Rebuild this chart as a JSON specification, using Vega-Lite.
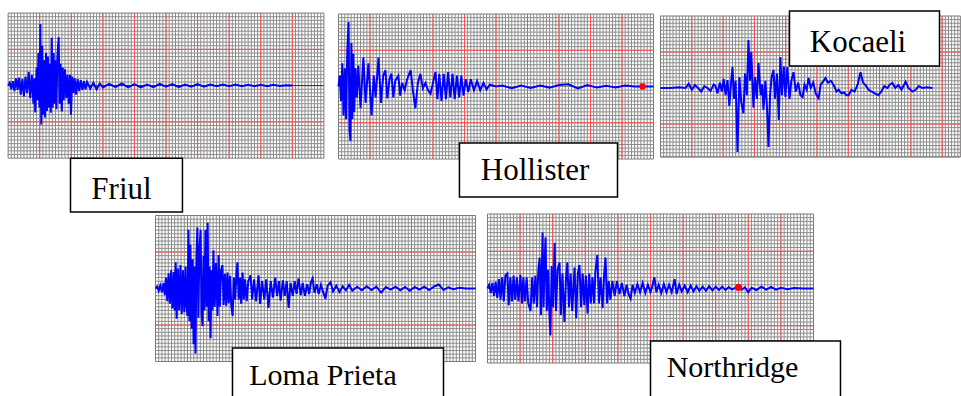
{
  "$schema": "https://vega.github.io/schema/vega-lite/v6.json",
  "background": "white",
  "padding": {"left": 3.5, "top": 8, "right": 0, "bottom": 0},
  "columns": 3,
  "align": "none",
  "bounds": "flush",
  "spacing": 0,
  "config": {
    "view": {"stroke": null},
    "axis": {"disable": true}
  },
  "datasets": {
    "gx": [{"t":0.1},{"t":0.2},{"t":0.3},{"t":0.4},{"t":0.5},{"t":0.6},{"t":0.7},{"t":0.8},{"t":0.9},{"t":1},{"t":1.1},{"t":1.2},{"t":1.3},{"t":1.4},{"t":1.5},{"t":1.6},{"t":1.7},{"t":1.8},{"t":1.9},{"t":2},{"t":2.1},{"t":2.2},{"t":2.3},{"t":2.4},{"t":2.5},{"t":2.6},{"t":2.7},{"t":2.8},{"t":2.9},{"t":3},{"t":3.1},{"t":3.2},{"t":3.3},{"t":3.4},{"t":3.5},{"t":3.6},{"t":3.7},{"t":3.8},{"t":3.9},{"t":4},{"t":4.1},{"t":4.2},{"t":4.3},{"t":4.4},{"t":4.5},{"t":4.6},{"t":4.7},{"t":4.8},{"t":4.9},{"t":5},{"t":5.1},{"t":5.2},{"t":5.3},{"t":5.4},{"t":5.5},{"t":5.6},{"t":5.7},{"t":5.8},{"t":5.9},{"t":6},{"t":6.1},{"t":6.2},{"t":6.3},{"t":6.4},{"t":6.5},{"t":6.6},{"t":6.7},{"t":6.8},{"t":6.9},{"t":7},{"t":7.1},{"t":7.2},{"t":7.3},{"t":7.4},{"t":7.5},{"t":7.6},{"t":7.7},{"t":7.8},{"t":7.9},{"t":8},{"t":8.1},{"t":8.2},{"t":8.3},{"t":8.4},{"t":8.5},{"t":8.6},{"t":8.7},{"t":8.8},{"t":8.9},{"t":9},{"t":9.1},{"t":9.2},{"t":9.3},{"t":9.4},{"t":9.5},{"t":9.6},{"t":9.7},{"t":9.8},{"t":9.9}],
    "gy": [{"a":-1.9},{"a":-1.8},{"a":-1.7},{"a":-1.6},{"a":-1.5},{"a":-1.4},{"a":-1.3},{"a":-1.2},{"a":-1.1},{"a":-1},{"a":-0.9},{"a":-0.8},{"a":-0.7},{"a":-0.6},{"a":-0.5},{"a":-0.4},{"a":-0.3},{"a":-0.2},{"a":-0.1},{"a":0},{"a":0.1},{"a":0.2},{"a":0.3},{"a":0.4},{"a":0.5},{"a":0.6},{"a":0.7},{"a":0.8},{"a":0.9},{"a":1},{"a":1.1},{"a":1.2},{"a":1.3},{"a":1.4},{"a":1.5},{"a":1.6},{"a":1.7},{"a":1.8},{"a":1.9}],
    "vmaj": [{"t": 1}, {"t": 2}, {"t": 3}, {"t": 4}, {"t": 5}, {"t": 6}, {"t": 7}, {"t": 8}, {"t": 9}],
    "hmaj": [{"a": -1}, {"a": 1}],
    "zero": [{"a": 0}],
    "friul": [
      {"t":0,"a":0},{"t":0.05,"a":0.08},{"t":0.1,"a":-0.1},{"t":0.15,"a":0.12},{"t":0.2,"a":-0.15},{"t":0.25,"a":0.2},{"t":0.3,"a":-0.12},{"t":0.35,"a":0.22},{"t":0.4,"a":-0.25},{"t":0.45,"a":0.18},{"t":0.5,"a":-0.3},{"t":0.55,"a":0.25},{"t":0.6,"a":-0.2},{"t":0.65,"a":0.38},{"t":0.7,"a":-0.35},{"t":0.75,"a":0.3},{"t":0.8,"a":-0.5},{"t":0.83,"a":0.2},{"t":0.86,"a":-0.74},{"t":0.9,"a":0.5},{"t":0.93,"a":-0.4},{"t":0.96,"a":0.9},{"t":0.99,"a":-0.6},{"t":1.02,"a":1.7},{"t":1.05,"a":-1.07},{"t":1.08,"a":1.1},{"t":1.11,"a":-0.8},{"t":1.14,"a":0.7},{"t":1.17,"a":-0.88},{"t":1.2,"a":0.9},{"t":1.23,"a":-0.7},{"t":1.26,"a":0.8},{"t":1.29,"a":-0.6},{"t":1.32,"a":0.6},{"t":1.35,"a":-0.75},{"t":1.38,"a":1.32},{"t":1.41,"a":-0.6},{"t":1.44,"a":0.9},{"t":1.47,"a":-0.5},{"t":1.5,"a":0.7},{"t":1.53,"a":-0.65},{"t":1.56,"a":0.8},{"t":1.6,"a":1.34},{"t":1.63,"a":-0.5},{"t":1.66,"a":0.6},{"t":1.7,"a":-0.71},{"t":1.73,"a":0.5},{"t":1.76,"a":-0.4},{"t":1.8,"a":0.45},{"t":1.84,"a":-0.35},{"t":1.88,"a":0.3},{"t":1.92,"a":-0.5},{"t":1.96,"a":0.3},{"t":1.99,"a":-0.8},{"t":2.03,"a":0.25},{"t":2.07,"a":-0.2},{"t":2.11,"a":0.2},{"t":2.15,"a":-0.25},{"t":2.2,"a":0.18},{"t":2.25,"a":-0.15},{"t":2.3,"a":0.15},{"t":2.35,"a":-0.12},{"t":2.4,"a":0.12},{"t":2.45,"a":-0.1},{"t":2.5,"a":0.1},{"t":2.6,"a":-0.08},{"t":2.7,"a":0.08},{"t":2.8,"a":-0.1},{"t":2.9,"a":0.06},{"t":3.0,"a":-0.05},{"t":3.2,"a":0.05},{"t":3.4,"a":-0.04},{"t":3.6,"a":0.06},{"t":3.8,"a":-0.05},{"t":4.0,"a":0.04},{"t":4.2,"a":-0.05},{"t":4.4,"a":0.03},{"t":4.6,"a":-0.04},{"t":4.8,"a":0.05},{"t":5.0,"a":-0.03},{"t":5.2,"a":0.04},{"t":5.4,"a":-0.04},{"t":5.6,"a":0.03},{"t":5.8,"a":-0.03},{"t":6.0,"a":0.04},{"t":6.2,"a":-0.03},{"t":6.4,"a":0.03},{"t":6.6,"a":-0.02},{"t":6.8,"a":0.03},{"t":7.0,"a":-0.02},{"t":7.2,"a":0.03},{"t":7.4,"a":-0.02},{"t":7.6,"a":0.02},{"t":7.8,"a":-0.02},{"t":8.0,"a":0.02},{"t":8.2,"a":-0.02},{"t":8.4,"a":0.02},{"t":8.6,"a":-0.01},{"t":8.8,"a":0.01},{"t":9.0,"a":0}
    ],
    "hollister": [
      {"t":0,"a":0},{"t":0.04,"a":0.3},{"t":0.08,"a":-0.4},{"t":0.12,"a":0.64},{"t":0.16,"a":-0.8},{"t":0.2,"a":0.5},{"t":0.24,"a":-0.9},{"t":0.28,"a":1.0},{"t":0.32,"a":1.78},{"t":0.35,"a":-1.2},{"t":0.38,"a":-1.5},{"t":0.41,"a":1.2},{"t":0.44,"a":-0.9},{"t":0.47,"a":0.9},{"t":0.5,"a":-0.7},{"t":0.54,"a":0.5},{"t":0.58,"a":-0.3},{"t":0.63,"a":0.58},{"t":0.7,"a":-0.6},{"t":0.79,"a":0.8},{"t":0.86,"a":-0.45},{"t":0.95,"a":0.64},{"t":1.05,"a":-0.8},{"t":1.12,"a":0.3},{"t":1.18,"a":-0.3},{"t":1.27,"a":0.8},{"t":1.35,"a":-0.45},{"t":1.42,"a":0.3},{"t":1.49,"a":0.45},{"t":1.55,"a":-0.33},{"t":1.62,"a":0.2},{"t":1.68,"a":0.36},{"t":1.74,"a":-0.3},{"t":1.8,"a":0.15},{"t":1.9,"a":0.3},{"t":1.96,"a":-0.25},{"t":2.02,"a":0.1},{"t":2.1,"a":-0.1},{"t":2.18,"a":0.2},{"t":2.29,"a":0.45},{"t":2.36,"a":-0.1},{"t":2.44,"a":-0.6},{"t":2.52,"a":0.1},{"t":2.6,"a":0.35},{"t":2.68,"a":-0.05},{"t":2.76,"a":0.1},{"t":2.84,"a":-0.1},{"t":2.92,"a":-0.2},{"t":3.0,"a":0.1},{"t":3.08,"a":0.4},{"t":3.14,"a":-0.35},{"t":3.2,"a":0.35},{"t":3.27,"a":-0.4},{"t":3.34,"a":0.35},{"t":3.41,"a":-0.35},{"t":3.48,"a":0.4},{"t":3.55,"a":-0.3},{"t":3.62,"a":0.35},{"t":3.69,"a":-0.35},{"t":3.76,"a":0.3},{"t":3.83,"a":-0.3},{"t":3.9,"a":0.3},{"t":3.97,"a":-0.25},{"t":4.04,"a":0.2},{"t":4.12,"a":-0.15},{"t":4.2,"a":0.2},{"t":4.3,"a":-0.1},{"t":4.4,"a":0.15},{"t":4.5,"a":-0.1},{"t":4.6,"a":0.1},{"t":4.7,"a":-0.08},{"t":4.8,"a":0.05},{"t":5.0,"a":0},{"t":5.2,"a":0.03},{"t":5.5,"a":-0.05},{"t":5.8,"a":0.03},{"t":6.1,"a":-0.04},{"t":6.4,"a":0.03},{"t":6.7,"a":-0.03},{"t":7.0,"a":0.04},{"t":7.3,"a":0.06},{"t":7.6,"a":-0.05},{"t":7.9,"a":0.04},{"t":8.2,"a":-0.03},{"t":8.5,"a":0.02},{"t":8.8,"a":-0.03},{"t":9.1,"a":0.03},{"t":9.4,"a":0},{"t":9.65,"a":0},{"t":10,"a":0}
    ],
    "kocaeli": [
      {"t":0,"a":0},{"t":0.3,"a":0},{"t":0.6,"a":0.02},{"t":0.8,"a":0},{"t":0.9,"a":0.12},{"t":1.0,"a":-0.05},{"t":1.1,"a":0.08},{"t":1.2,"a":0.0},{"t":1.3,"a":-0.1},{"t":1.4,"a":0.05},{"t":1.5,"a":0.0},{"t":1.6,"a":-0.08},{"t":1.7,"a":0.1},{"t":1.76,"a":0.05},{"t":1.82,"a":-0.15},{"t":1.9,"a":0.15},{"t":1.96,"a":-0.1},{"t":2.02,"a":0.25},{"t":2.08,"a":-0.2},{"t":2.14,"a":0.22},{"t":2.2,"a":-0.5},{"t":2.25,"a":0.1},{"t":2.3,"a":0.58},{"t":2.35,"a":-0.3},{"t":2.4,"a":0.2},{"t":2.46,"a":-1.78},{"t":2.52,"a":0.3},{"t":2.58,"a":-0.4},{"t":2.65,"a":-0.7},{"t":2.7,"a":0.4},{"t":2.76,"a":-0.2},{"t":2.81,"a":1.33},{"t":2.86,"a":0.2},{"t":2.9,"a":1.0},{"t":2.97,"a":-0.55},{"t":3.02,"a":0.3},{"t":3.08,"a":-0.3},{"t":3.13,"a":0.69},{"t":3.2,"a":-0.2},{"t":3.25,"a":0.1},{"t":3.29,"a":-0.6},{"t":3.35,"a":0.2},{"t":3.4,"a":-0.5},{"t":3.45,"a":-1.64},{"t":3.5,"a":-0.2},{"t":3.55,"a":0.3},{"t":3.61,"a":0.5},{"t":3.66,"a":-0.3},{"t":3.72,"a":0.4},{"t":3.78,"a":-0.89},{"t":3.83,"a":0.86},{"t":3.88,"a":-0.2},{"t":3.94,"a":0.6},{"t":3.99,"a":-0.25},{"t":4.05,"a":0.58},{"t":4.12,"a":-0.3},{"t":4.18,"a":0.2},{"t":4.25,"a":0.44},{"t":4.32,"a":-0.1},{"t":4.4,"a":0.15},{"t":4.47,"a":-0.2},{"t":4.54,"a":-0.25},{"t":4.6,"a":0.1},{"t":4.67,"a":-0.05},{"t":4.73,"a":0.28},{"t":4.8,"a":0.0},{"t":4.88,"a":0.15},{"t":4.96,"a":-0.15},{"t":5.05,"a":-0.28},{"t":5.12,"a":0.1},{"t":5.2,"a":0.18},{"t":5.27,"a":0.28},{"t":5.35,"a":0.15},{"t":5.45,"a":0.2},{"t":5.55,"a":0.05},{"t":5.62,"a":-0.1},{"t":5.69,"a":-0.05},{"t":5.78,"a":-0.15},{"t":5.86,"a":-0.12},{"t":5.94,"a":-0.2},{"t":6.01,"a":-0.2},{"t":6.1,"a":-0.05},{"t":6.2,"a":-0.1},{"t":6.3,"a":0.1},{"t":6.39,"a":0.44},{"t":6.47,"a":0.15},{"t":6.55,"a":0.08},{"t":6.65,"a":-0.05},{"t":6.75,"a":-0.1},{"t":6.85,"a":-0.15},{"t":6.96,"a":-0.2},{"t":7.05,"a":-0.1},{"t":7.15,"a":0.05},{"t":7.25,"a":0.0},{"t":7.33,"a":0.1},{"t":7.41,"a":0.14},{"t":7.5,"a":0.0},{"t":7.6,"a":0.08},{"t":7.7,"a":-0.05},{"t":7.83,"a":0.17},{"t":7.92,"a":0.0},{"t":8.05,"a":-0.1},{"t":8.15,"a":-0.05},{"t":8.25,"a":0.05},{"t":8.37,"a":0.0},{"t":8.5,"a":0.02},{"t":8.69,"a":0.0}
    ],
    "loma": [
      {"t":0,"a":0},{"t":0.05,"a":0.05},{"t":0.1,"a":-0.06},{"t":0.15,"a":0.08},{"t":0.2,"a":-0.1},{"t":0.25,"a":0.15},{"t":0.29,"a":-0.18},{"t":0.33,"a":0.3},{"t":0.37,"a":-0.35},{"t":0.41,"a":0.42},{"t":0.45,"a":-0.42},{"t":0.49,"a":0.5},{"t":0.53,"a":-0.55},{"t":0.57,"a":0.45},{"t":0.6,"a":-0.6},{"t":0.63,"a":0.72},{"t":0.66,"a":-0.83},{"t":0.7,"a":0.55},{"t":0.74,"a":-0.6},{"t":0.78,"a":0.64},{"t":0.82,"a":-0.7},{"t":0.86,"a":0.5},{"t":0.9,"a":-0.65},{"t":0.94,"a":0.6},{"t":0.97,"a":-0.5},{"t":1.0,"a":-0.75},{"t":1.03,"a":1.61},{"t":1.06,"a":-0.9},{"t":1.09,"a":1.2},{"t":1.13,"a":-1.1},{"t":1.16,"a":0.8},{"t":1.19,"a":-1.53},{"t":1.22,"a":0.6},{"t":1.25,"a":-1.78},{"t":1.28,"a":0.9},{"t":1.31,"a":1.67},{"t":1.34,"a":-0.8},{"t":1.37,"a":1.0},{"t":1.41,"a":1.61},{"t":1.44,"a":-0.7},{"t":1.47,"a":-1.03},{"t":1.5,"a":0.9},{"t":1.53,"a":-0.6},{"t":1.56,"a":1.61},{"t":1.6,"a":-0.5},{"t":1.63,"a":1.8},{"t":1.66,"a":-0.9},{"t":1.69,"a":0.6},{"t":1.72,"a":-1.36},{"t":1.75,"a":0.5},{"t":1.78,"a":-0.6},{"t":1.81,"a":1.05},{"t":1.85,"a":-0.5},{"t":1.89,"a":0.7},{"t":1.94,"a":-0.75},{"t":1.97,"a":0.92},{"t":2.01,"a":-0.5},{"t":2.05,"a":0.5},{"t":2.09,"a":0.64},{"t":2.13,"a":-0.45},{"t":2.17,"a":0.4},{"t":2.21,"a":-0.47},{"t":2.25,"a":0.44},{"t":2.29,"a":-0.4},{"t":2.33,"a":0.35},{"t":2.37,"a":-0.5},{"t":2.41,"a":-0.75},{"t":2.45,"a":0.3},{"t":2.49,"a":-0.3},{"t":2.53,"a":0.4},{"t":2.56,"a":0.72},{"t":2.6,"a":-0.3},{"t":2.64,"a":0.3},{"t":2.68,"a":-0.42},{"t":2.72,"a":0.44},{"t":2.76,"a":-0.3},{"t":2.8,"a":0.25},{"t":2.85,"a":-0.35},{"t":2.9,"a":0.2},{"t":2.97,"a":0.36},{"t":3.02,"a":-0.3},{"t":3.08,"a":0.25},{"t":3.14,"a":-0.35},{"t":3.22,"a":0.36},{"t":3.27,"a":-0.42},{"t":3.33,"a":0.2},{"t":3.4,"a":-0.3},{"t":3.46,"a":0.25},{"t":3.53,"a":-0.53},{"t":3.6,"a":0.2},{"t":3.67,"a":-0.25},{"t":3.74,"a":0.3},{"t":3.8,"a":-0.2},{"t":3.86,"a":0.2},{"t":3.91,"a":-0.33},{"t":3.98,"a":0.22},{"t":4.04,"a":-0.2},{"t":4.1,"a":0.2},{"t":4.16,"a":-0.53},{"t":4.22,"a":0.15},{"t":4.29,"a":-0.2},{"t":4.35,"a":0.2},{"t":4.41,"a":-0.15},{"t":4.47,"a":0.28},{"t":4.54,"a":-0.18},{"t":4.6,"a":0.15},{"t":4.67,"a":-0.2},{"t":4.74,"a":0.12},{"t":4.8,"a":-0.15},{"t":4.86,"a":0.18},{"t":4.91,"a":0.28},{"t":4.97,"a":-0.12},{"t":5.04,"a":0.12},{"t":5.1,"a":-0.15},{"t":5.17,"a":0.1},{"t":5.24,"a":-0.1},{"t":5.31,"a":-0.28},{"t":5.38,"a":0.08},{"t":5.47,"a":0.17},{"t":5.55,"a":-0.08},{"t":5.65,"a":0.08},{"t":5.75,"a":-0.1},{"t":5.85,"a":0.06},{"t":5.95,"a":-0.05},{"t":6.05,"a":0.1},{"t":6.15,"a":-0.06},{"t":6.3,"a":0.05},{"t":6.45,"a":-0.05},{"t":6.6,"a":0.06},{"t":6.75,"a":-0.04},{"t":6.9,"a":0.05},{"t":7.05,"a":-0.11},{"t":7.2,"a":0.04},{"t":7.35,"a":-0.03},{"t":7.5,"a":0.05},{"t":7.65,"a":-0.05},{"t":7.8,"a":0.04},{"t":7.95,"a":-0.06},{"t":8.1,"a":0.04},{"t":8.25,"a":-0.03},{"t":8.4,"a":0.05},{"t":8.55,"a":-0.04},{"t":8.7,"a":0.05},{"t":8.85,"a":0.11},{"t":9.0,"a":-0.04},{"t":9.15,"a":0.03},{"t":9.3,"a":-0.02},{"t":9.5,"a":0.02},{"t":9.7,"a":0},{"t":10,"a":0}
    ],
    "northridge": [
      {"t":0,"a":0},{"t":0.05,"a":0.1},{"t":0.1,"a":-0.12},{"t":0.15,"a":0.15},{"t":0.2,"a":-0.2},{"t":0.25,"a":0.18},{"t":0.3,"a":-0.25},{"t":0.35,"a":0.25},{"t":0.4,"a":-0.3},{"t":0.45,"a":0.3},{"t":0.5,"a":-0.35},{"t":0.55,"a":0.35},{"t":0.61,"a":0.4},{"t":0.65,"a":-0.45},{"t":0.7,"a":0.3},{"t":0.75,"a":-0.35},{"t":0.8,"a":0.35},{"t":0.85,"a":-0.3},{"t":0.9,"a":0.3},{"t":0.95,"a":-0.35},{"t":1.01,"a":0.37},{"t":1.06,"a":-0.4},{"t":1.1,"a":0.3},{"t":1.15,"a":-0.35},{"t":1.2,"a":0.3},{"t":1.25,"a":-0.4},{"t":1.32,"a":-0.6},{"t":1.37,"a":0.3},{"t":1.42,"a":-0.4},{"t":1.47,"a":0.35},{"t":1.52,"a":-0.5},{"t":1.56,"a":0.5},{"t":1.6,"a":0.83},{"t":1.64,"a":-0.72},{"t":1.69,"a":1.5},{"t":1.72,"a":-0.5},{"t":1.75,"a":0.6},{"t":1.78,"a":1.37},{"t":1.82,"a":-0.6},{"t":1.86,"a":0.5},{"t":1.9,"a":-0.7},{"t":1.93,"a":-1.26},{"t":1.97,"a":0.6},{"t":2.01,"a":-0.5},{"t":2.06,"a":1.23},{"t":2.1,"a":-0.6},{"t":2.15,"a":0.5},{"t":2.21,"a":0.7},{"t":2.25,"a":-0.72},{"t":2.3,"a":0.4},{"t":2.36,"a":-0.9},{"t":2.41,"a":0.3},{"t":2.45,"a":0.7},{"t":2.5,"a":-0.5},{"t":2.55,"a":0.4},{"t":2.6,"a":-0.6},{"t":2.67,"a":0.56},{"t":2.72,"a":-0.8},{"t":2.77,"a":0.4},{"t":2.82,"a":0.63},{"t":2.87,"a":-0.5},{"t":2.92,"a":0.4},{"t":2.97,"a":-0.45},{"t":3.02,"a":0.35},{"t":3.07,"a":-0.67},{"t":3.12,"a":0.4},{"t":3.17,"a":-0.4},{"t":3.22,"a":0.3},{"t":3.27,"a":-0.4},{"t":3.31,"a":0.44},{"t":3.37,"a":0.9},{"t":3.42,"a":-0.4},{"t":3.47,"a":0.3},{"t":3.53,"a":-0.53},{"t":3.58,"a":0.4},{"t":3.62,"a":0.83},{"t":3.67,"a":-0.4},{"t":3.72,"a":0.2},{"t":3.77,"a":-0.3},{"t":3.83,"a":0.2},{"t":3.9,"a":-0.2},{"t":3.97,"a":0.2},{"t":4.05,"a":-0.15},{"t":4.12,"a":0.15},{"t":4.2,"a":-0.2},{"t":4.27,"a":0.1},{"t":4.33,"a":-0.15},{"t":4.39,"a":-0.27},{"t":4.45,"a":0.1},{"t":4.52,"a":-0.12},{"t":4.6,"a":0.12},{"t":4.68,"a":-0.1},{"t":4.76,"a":0.15},{"t":4.84,"a":-0.12},{"t":4.92,"a":0.1},{"t":5.0,"a":-0.1},{"t":5.06,"a":0.08},{"t":5.12,"a":0.3},{"t":5.18,"a":-0.1},{"t":5.25,"a":0.1},{"t":5.33,"a":-0.12},{"t":5.41,"a":0.12},{"t":5.49,"a":-0.1},{"t":5.57,"a":0.1},{"t":5.65,"a":-0.1},{"t":5.74,"a":0.25},{"t":5.8,"a":-0.15},{"t":5.88,"a":0.1},{"t":5.96,"a":-0.08},{"t":6.05,"a":0.08},{"t":6.14,"a":-0.1},{"t":6.23,"a":0.08},{"t":6.32,"a":-0.08},{"t":6.41,"a":0.06},{"t":6.5,"a":-0.06},{"t":6.6,"a":0.05},{"t":6.7,"a":-0.06},{"t":6.8,"a":0.06},{"t":6.9,"a":-0.05},{"t":7.0,"a":0.05},{"t":7.1,"a":-0.04},{"t":7.2,"a":0.05},{"t":7.3,"a":-0.04},{"t":7.4,"a":0.04},{"t":7.5,"a":-0.03},{"t":7.6,"a":0.02},{"t":7.7,"a":0.03},{"t":7.8,"a":-0.03},{"t":7.9,"a":0.03},{"t":8.0,"a":-0.1},{"t":8.1,"a":0.02},{"t":8.25,"a":-0.04},{"t":8.4,"a":0.05},{"t":8.55,"a":-0.03},{"t":8.7,"a":0.04},{"t":8.85,"a":-0.03},{"t":9.0,"a":0.02},{"t":9.2,"a":-0.02},{"t":9.4,"a":0.01},{"t":9.7,"a":0},{"t":10,"a":0}
    ]
  },
  "concat": [
    {
      "width": 324, "height": 202,
      "layer": [
        {"data": {"name": "gx"}, "mark": {"type": "rule", "color": "#8c8c8c", "strokeWidth": 1}, "encoding": {"x": {"field": "t", "type": "quantitative", "scale": {"domain": [-0.02, 10.24], "nice": false, "zero": false}}, "y": {"datum": -2, "type": "quantitative", "scale": {"domain": [-3.43, 2.14], "nice": false, "zero": false}}, "y2": {"datum": 2}}},
        {"data": {"name": "gy"}, "mark": {"type": "rule", "color": "#8c8c8c", "strokeWidth": 1}, "encoding": {"y": {"field": "a", "type": "quantitative"}, "x": {"datum": 0, "type": "quantitative"}, "x2": {"datum": 10}}},
        {"data": {"name": "vmaj"}, "mark": {"type": "rule", "color": "#ff4d4d", "strokeWidth": 1}, "encoding": {"x": {"field": "t", "type": "quantitative"}, "y": {"datum": -2, "type": "quantitative"}, "y2": {"datum": 2}}},
        {"data": {"name": "hmaj"}, "mark": {"type": "rule", "color": "#ff4d4d", "strokeWidth": 1}, "encoding": {"y": {"field": "a", "type": "quantitative"}, "x": {"datum": 0, "type": "quantitative"}, "x2": {"datum": 10}}},
        {"data": {"name": "zero"}, "mark": {"type": "rule", "color": "#333333", "strokeWidth": 1}, "encoding": {"y": {"field": "a", "type": "quantitative"}, "x": {"datum": 0, "type": "quantitative"}, "x2": {"datum": 10}}},
        {"data": {"values": [{"label": "Friul"}]}, "mark": {"type": "rect", "fillOpacity": 0, "stroke": "#7a7a7a", "strokeWidth": 1}, "encoding": {"x": {"datum": 0, "type": "quantitative"}, "x2": {"datum": 10}, "y": {"datum": -2, "type": "quantitative"}, "y2": {"datum": 2}}},
        {"data": {"name": "friul"}, "mark": {"type": "line", "color": "#0000ff", "strokeWidth": 2}, "encoding": {"x": {"field": "t", "type": "quantitative"}, "y": {"field": "a", "type": "quantitative"}}},
        {"data": {"values": [{"label": "Friul"}]}, "mark": {"type": "rect", "fill": "white", "stroke": "black", "strokeWidth": 1.5}, "encoding": {"x": {"datum": 1.975, "type": "quantitative"}, "x2": {"datum": 5.52}, "y": {"datum": -2.0, "type": "quantitative"}, "y2": {"datum": -3.485}}},
        {"data": {"values": [{"label": "Friul"}]}, "mark": {"type": "text", "font": "Liberation Serif", "fontSize": 31, "align": "center", "baseline": "alphabetic", "color": "black"}, "encoding": {"x": {"datum": 3.59, "type": "quantitative"}, "y": {"datum": -3.13, "type": "quantitative"}, "text": {"field": "label"}}}
      ]
    },
    {
      "width": 326, "height": 202,
      "layer": [
        {"data": {"name": "gx"}, "mark": {"type": "rule", "color": "#8c8c8c", "strokeWidth": 1}, "encoding": {"x": {"field": "t", "type": "quantitative", "scale": {"domain": [-0.222, 10.127], "nice": false, "zero": false}}, "y": {"datum": -2, "type": "quantitative", "scale": {"domain": [-3.407, 2.166], "nice": false, "zero": false}}, "y2": {"datum": 2}}},
        {"data": {"name": "gy"}, "mark": {"type": "rule", "color": "#8c8c8c", "strokeWidth": 1}, "encoding": {"y": {"field": "a", "type": "quantitative"}, "x": {"datum": 0, "type": "quantitative"}, "x2": {"datum": 10}}},
        {"data": {"name": "vmaj"}, "mark": {"type": "rule", "color": "#ff4d4d", "strokeWidth": 1}, "encoding": {"x": {"field": "t", "type": "quantitative"}, "y": {"datum": -2, "type": "quantitative"}, "y2": {"datum": 2}}},
        {"data": {"name": "hmaj"}, "mark": {"type": "rule", "color": "#ff4d4d", "strokeWidth": 1}, "encoding": {"y": {"field": "a", "type": "quantitative"}, "x": {"datum": 0, "type": "quantitative"}, "x2": {"datum": 10}}},
        {"data": {"values": [{"label": "Hollister"}]}, "mark": {"type": "rect", "fillOpacity": 0, "stroke": "#7a7a7a", "strokeWidth": 1}, "encoding": {"x": {"datum": 0, "type": "quantitative"}, "x2": {"datum": 10}, "y": {"datum": -2, "type": "quantitative"}, "y2": {"datum": 2}}},
        {"data": {"name": "hollister"}, "mark": {"type": "line", "color": "#0000ff", "strokeWidth": 2}, "encoding": {"x": {"field": "t", "type": "quantitative"}, "y": {"field": "a", "type": "quantitative"}}},
        {"data": {"values": [{"t": 9.65, "a": 0}]}, "mark": {"type": "circle", "color": "#ff0000", "opacity": 1, "size": 42}, "encoding": {"x": {"field": "t", "type": "quantitative"}, "y": {"field": "a", "type": "quantitative"}}},
        {"data": {"values": [{"label": "Hollister"}]}, "mark": {"type": "rect", "fill": "white", "stroke": "black", "strokeWidth": 1.5}, "encoding": {"x": {"datum": 3.84, "type": "quantitative"}, "x2": {"datum": 8.857}, "y": {"datum": -1.559, "type": "quantitative"}, "y2": {"datum": -3.048}}},
        {"data": {"values": [{"label": "Hollister"}]}, "mark": {"type": "text", "font": "Liberation Serif", "fontSize": 31, "align": "center", "baseline": "alphabetic", "color": "black"}, "encoding": {"x": {"datum": 6.238, "type": "quantitative"}, "y": {"datum": -2.579, "type": "quantitative"}, "text": {"field": "label"}}}
      ]
    },
    {
      "width": 304, "height": 202,
      "layer": [
        {"data": {"name": "gx"}, "transform": [{"filter": "datum.t < 9.58"}], "mark": {"type": "rule", "color": "#8c8c8c", "strokeWidth": 1}, "encoding": {"x": {"field": "t", "type": "quantitative", "scale": {"domain": [-0.096, 9.617], "nice": false, "zero": false}}, "y": {"datum": -1.92, "type": "quantitative", "scale": {"domain": [-3.389, 2.222], "nice": false, "zero": false}}, "y2": {"datum": 2}}},
        {"data": {"name": "gy"}, "mark": {"type": "rule", "color": "#8c8c8c", "strokeWidth": 1}, "encoding": {"y": {"field": "a", "type": "quantitative"}, "x": {"datum": 0, "type": "quantitative"}, "x2": {"datum": 9.58}}},
        {"data": {"name": "vmaj"}, "mark": {"type": "rule", "color": "#ff4d4d", "strokeWidth": 1}, "encoding": {"x": {"field": "t", "type": "quantitative"}, "y": {"datum": -1.92, "type": "quantitative"}, "y2": {"datum": 2}}},
        {"data": {"name": "hmaj"}, "mark": {"type": "rule", "color": "#ff4d4d", "strokeWidth": 1}, "encoding": {"y": {"field": "a", "type": "quantitative"}, "x": {"datum": 0, "type": "quantitative"}, "x2": {"datum": 9.58}}},
        {"data": {"values": [{"label": "Kocaeli"}]}, "mark": {"type": "rect", "fillOpacity": 0, "stroke": "#7a7a7a", "strokeWidth": 1}, "encoding": {"x": {"datum": 0, "type": "quantitative"}, "x2": {"datum": 9.58}, "y": {"datum": -1.92, "type": "quantitative"}, "y2": {"datum": 2}}},
        {"data": {"name": "kocaeli"}, "mark": {"type": "line", "color": "#0000ff", "strokeWidth": 2}, "encoding": {"x": {"field": "t", "type": "quantitative"}, "y": {"field": "a", "type": "quantitative"}}},
        {"data": {"values": [{"label": "Kocaeli"}]}, "mark": {"type": "rect", "fill": "white", "stroke": "black", "strokeWidth": 1.5}, "encoding": {"x": {"datum": 4.121, "type": "quantitative"}, "x2": {"datum": 8.914}, "y": {"datum": 2.139, "type": "quantitative"}, "y2": {"datum": 0.611}}},
        {"data": {"values": [{"label": "Kocaeli"}]}, "mark": {"type": "text", "font": "Liberation Serif", "fontSize": 31, "align": "center", "baseline": "alphabetic", "color": "black"}, "encoding": {"x": {"datum": 6.31, "type": "quantitative"}, "y": {"datum": 1.0, "type": "quantitative"}, "text": {"field": "label"}}}
      ]
    },
    {
      "width": 324, "height": 190,
      "layer": [
        {"data": {"name": "gx"}, "mark": {"type": "rule", "color": "#8c8c8c", "strokeWidth": 1}, "encoding": {"x": {"field": "t", "type": "quantitative", "scale": {"domain": [-4.625, 5.5], "nice": false, "zero": false}}, "y": {"datum": -2, "type": "quantitative", "scale": {"domain": [-3.055, 2.151], "nice": false, "zero": false}}, "y2": {"datum": 2}}},
        {"data": {"name": "gy"}, "mark": {"type": "rule", "color": "#8c8c8c", "strokeWidth": 1}, "encoding": {"y": {"field": "a", "type": "quantitative"}, "x": {"datum": 0, "type": "quantitative"}, "x2": {"datum": 10}}},
        {"data": {"name": "vmaj"}, "mark": {"type": "rule", "color": "#ff4d4d", "strokeWidth": 1}, "encoding": {"x": {"field": "t", "type": "quantitative"}, "y": {"datum": -2, "type": "quantitative"}, "y2": {"datum": 2}}},
        {"data": {"name": "hmaj"}, "mark": {"type": "rule", "color": "#ff4d4d", "strokeWidth": 1}, "encoding": {"y": {"field": "a", "type": "quantitative"}, "x": {"datum": 0, "type": "quantitative"}, "x2": {"datum": 10}}},
        {"data": {"values": [{"label": "Loma Prieta"}]}, "mark": {"type": "rect", "fillOpacity": 0, "stroke": "#7a7a7a", "strokeWidth": 1}, "encoding": {"x": {"datum": 0, "type": "quantitative"}, "x2": {"datum": 10}, "y": {"datum": -2, "type": "quantitative"}, "y2": {"datum": 2}}},
        {"data": {"name": "loma"}, "mark": {"type": "line", "color": "#0000ff", "strokeWidth": 2}, "encoding": {"x": {"field": "t", "type": "quantitative"}, "y": {"field": "a", "type": "quantitative"}}},
        {"data": {"values": [{"label": "Loma Prieta"}]}, "mark": {"type": "rect", "fill": "white", "stroke": "black", "strokeWidth": 1.5}, "encoding": {"x": {"datum": 2.406, "type": "quantitative"}, "x2": {"datum": 9.0}, "y": {"datum": -1.63, "type": "quantitative"}, "y2": {"datum": -3.2}}},
        {"data": {"values": [{"label": "Loma Prieta"}]}, "mark": {"type": "text", "font": "Liberation Serif", "fontSize": 30, "align": "center", "baseline": "alphabetic", "color": "black"}, "encoding": {"x": {"datum": 5.234, "type": "quantitative"}, "y": {"datum": -2.644, "type": "quantitative"}, "text": {"field": "label"}}}
      ]
    },
    {
      "width": 326, "height": 190,
      "layer": [
        {"data": {"name": "gx"}, "mark": {"type": "rule", "color": "#8c8c8c", "strokeWidth": 1}, "encoding": {"x": {"field": "t", "type": "quantitative", "scale": {"domain": [-4.785, 5.215], "nice": false, "zero": false}}, "y": {"datum": -2, "type": "quantitative", "scale": {"domain": [-2.993, 2.107], "nice": false, "zero": false}}, "y2": {"datum": 2}}},
        {"data": {"name": "gy"}, "mark": {"type": "rule", "color": "#8c8c8c", "strokeWidth": 1}, "encoding": {"y": {"field": "a", "type": "quantitative"}, "x": {"datum": 0, "type": "quantitative"}, "x2": {"datum": 10}}},
        {"data": {"name": "vmaj"}, "mark": {"type": "rule", "color": "#ff4d4d", "strokeWidth": 1}, "encoding": {"x": {"field": "t", "type": "quantitative"}, "y": {"datum": -2, "type": "quantitative"}, "y2": {"datum": 2}}},
        {"data": {"name": "hmaj"}, "mark": {"type": "rule", "color": "#ff4d4d", "strokeWidth": 1}, "encoding": {"y": {"field": "a", "type": "quantitative"}, "x": {"datum": 0, "type": "quantitative"}, "x2": {"datum": 10}}},
        {"data": {"values": [{"label": "Northridge"}]}, "mark": {"type": "rect", "fillOpacity": 0, "stroke": "#7a7a7a", "strokeWidth": 1}, "encoding": {"x": {"datum": 0, "type": "quantitative"}, "x2": {"datum": 10}, "y": {"datum": -2, "type": "quantitative"}, "y2": {"datum": 2}}},
        {"data": {"name": "northridge"}, "mark": {"type": "line", "color": "#0000ff", "strokeWidth": 2}, "encoding": {"x": {"field": "t", "type": "quantitative"}, "y": {"field": "a", "type": "quantitative"}}},
        {"data": {"values": [{"t": 7.7, "a": 0.03}]}, "mark": {"type": "circle", "color": "#ff0000", "opacity": 1, "size": 50}, "encoding": {"x": {"field": "t", "type": "quantitative"}, "y": {"field": "a", "type": "quantitative"}}},
        {"data": {"values": [{"label": "Northridge"}]}, "mark": {"type": "rect", "fill": "white", "stroke": "black", "strokeWidth": 1.5}, "encoding": {"x": {"datum": 5.0, "type": "quantitative"}, "x2": {"datum": 10.828}, "y": {"datum": -1.409, "type": "quantitative"}, "y2": {"datum": -3.2}}},
        {"data": {"values": [{"label": "Northridge"}]}, "mark": {"type": "text", "font": "Liberation Serif", "fontSize": 30, "align": "center", "baseline": "alphabetic", "color": "black"}, "encoding": {"x": {"datum": 7.515, "type": "quantitative"}, "y": {"datum": -2.376, "type": "quantitative"}, "text": {"field": "label"}}}
      ]
    }
  ]
}
